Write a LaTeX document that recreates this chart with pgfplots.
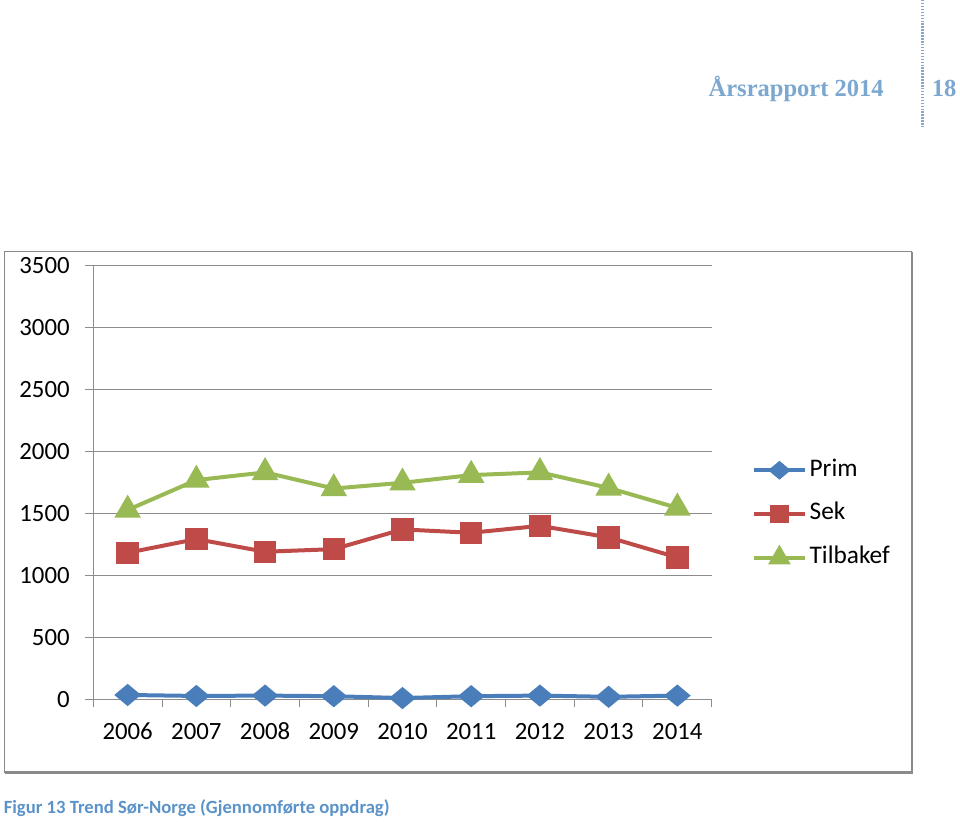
\documentclass[border=0pt]{standalone}
\usepackage{pgfplots}
\pgfplotsset{compat=1.18}
\usepackage{fontspec}
\setmainfont{Carlito}
\newfontfamily\headfont{Liberation Serif}
\definecolor{primc}{HTML}{4A7EBB}
\definecolor{sekc}{HTML}{BE4B48}
\definecolor{tilc}{HTML}{98B954}
\definecolor{headc}{HTML}{7BA7D0}
\definecolor{capc}{HTML}{5B93C8}
\definecolor{gridc}{HTML}{8C8C8C}
\definecolor{framec}{HTML}{8A8A8A}
\definecolor{dotc}{HTML}{8AA8CC}
\begin{document}
\begin{tikzpicture}[x=0.75pt,y=-0.75pt]
\useasboundingbox (0,0) rectangle (960,821);
\coordinate (A) at (93.3,699.3);
% header
\node[anchor=base east, inner sep=0pt, text=headc, font=\headfont\bfseries\fontsize{18.4}{21}\selectfont] at (884,96.5) {Årsrapport 2014};
\node[anchor=base west, inner sep=0pt, text=headc, font=\headfont\bfseries\fontsize{18.4}{21}\selectfont] at (931.5,96.5) {18};
\draw[dotc, line width=2pt, dash pattern=on 1.1pt off 1.1pt] (922.7,0) -- (922.7,127);
% frame
\draw[framec, line width=0.75pt] (4.5,251) rectangle (911,772);
\draw[framec, line width=2.2pt] (912,252) -- (912,772.7) -- (5,772.7);
% caption
\node[anchor=base west, inner sep=0pt, text=capc, font=\bfseries\fontsize{14}{16}\selectfont] at (3.5,813.5) {Figur 13 Trend Sør-Norge (Gjennomførte oppdrag)};
\begin{axis}[
  at={(A)}, anchor=south west,
  scale only axis, width=463.8pt, height=325.5pt,
  clip=false,
  xmin=0.5, xmax=9.5, ymin=0, ymax=3500,
  axis x line*=bottom, axis y line*=left,
  axis line style={gridc, line width=0.75pt, -},
  xtick={1,2,3,4,5,6,7,8,9},
  xticklabels={2006,2007,2008,2009,2010,2011,2012,2013,2014},
  minor xtick={0.5,1.5,2.5,3.5,4.5,5.5,6.5,7.5,8.5,9.5},
  ytick={0,500,1000,1500,2000,2500,3000,3500},
  ymajorgrids, grid style={gridc, line width=0.75pt},
  tick align=outside, major tick length=6pt, minor tick length=6pt,
  major x tick style={draw=none},
  minor x tick style={gridc, line width=0.75pt},
  y tick style={gridc, line width=0.75pt},
  tick label style={font=\fontsize{18.6}{21}\selectfont, inner sep=0pt, text height=11.8pt, text depth=0pt},
  /pgf/number format/assume math mode=true,
  /pgf/number format/set thousands separator={},
  yticklabel style={xshift=-11.5pt},
  xticklabel style={yshift=-12pt},
  legend style={at={(1.0647,0.427)}, anchor=west, draw=none, fill=none, inner sep=0pt,
    font=\fontsize{19}{21}\selectfont, row sep=16.6pt,
    nodes={inner ysep=0pt, inner xsep=2pt, text height=12.6pt, text depth=3.6pt}},
  legend cell align=left,
  legend image code/.code={\draw[mark repeat=2,mark phase=2,#1,every mark/.append style={scale=0.8}] plot coordinates {(0pt,0pt) (19.1pt,0pt) (38.25pt,0pt)};},
]
\addplot[primc, line width=3pt, mark=diamond*, mark size=6.4pt, mark options={xscale=1.6, draw=none, fill=primc}]
  coordinates {(1,35) (2,27) (3,30) (4,25) (5,10) (6,25) (7,30) (8,20) (9,30)};
\addlegendentry{Prim}
\addplot[sekc, line width=3pt, mark=square*, mark size=6.9pt, mark options={draw=none, fill=sekc}]
  coordinates {(1,1182) (2,1292) (3,1190) (4,1211) (5,1370) (6,1343) (7,1399) (8,1306) (9,1144)};
\addlegendentry{Sek}
\addplot[tilc, line width=3pt, mark=triangle*, mark size=8.5pt, mark options={draw=none, fill=tilc}]
  coordinates {(1,1527) (2,1768) (3,1830) (4,1700) (5,1746) (6,1808) (7,1830) (8,1705) (9,1544)};
\addlegendentry{Tilbakef}
\end{axis}
\end{tikzpicture}
\end{document}
